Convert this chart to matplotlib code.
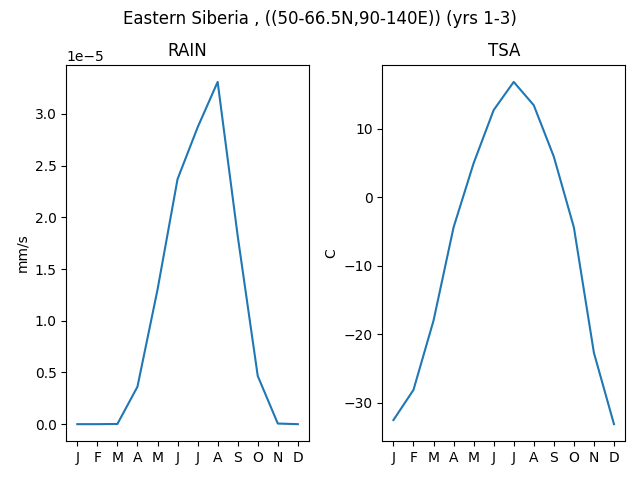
import matplotlib
matplotlib.use('Agg')
import matplotlib.pyplot as plt

# monthly climatology
months = ['J', 'F', 'M', 'A', 'M', 'J', 'J', 'A', 'S', 'O', 'N', 'D']
rain = [0.0, 0.0, 0.002e-5, 0.362e-5, 1.30e-5, 2.37e-5, 2.87e-5, 3.31e-5,
        1.82e-5, 0.466e-5, 0.006e-5, 0.0]
tsa = [-32.5, -28.1, -18.0, -4.4, 4.95, 12.7, 16.8, 13.4, 5.9, -4.4, -22.7, -33.1]

fig, axes = plt.subplots(1, 2, figsize=(6.4, 4.8), dpi=100)
fig.suptitle('Eastern Siberia , ((50-66.5N,90-140E)) (yrs 1-3)')

x = range(len(months))
axes[0].plot(x, rain)
axes[0].set_title('RAIN')
axes[0].set_ylabel('mm/s')

axes[1].plot(x, tsa)
axes[1].set_title('TSA')
axes[1].set_ylabel('C')

for ax in axes:
    ax.set_xticks(list(x))
    ax.set_xticklabels(months)

fig.tight_layout()
fig.subplots_adjust(top=0.865)
fig.savefig('out.png')
